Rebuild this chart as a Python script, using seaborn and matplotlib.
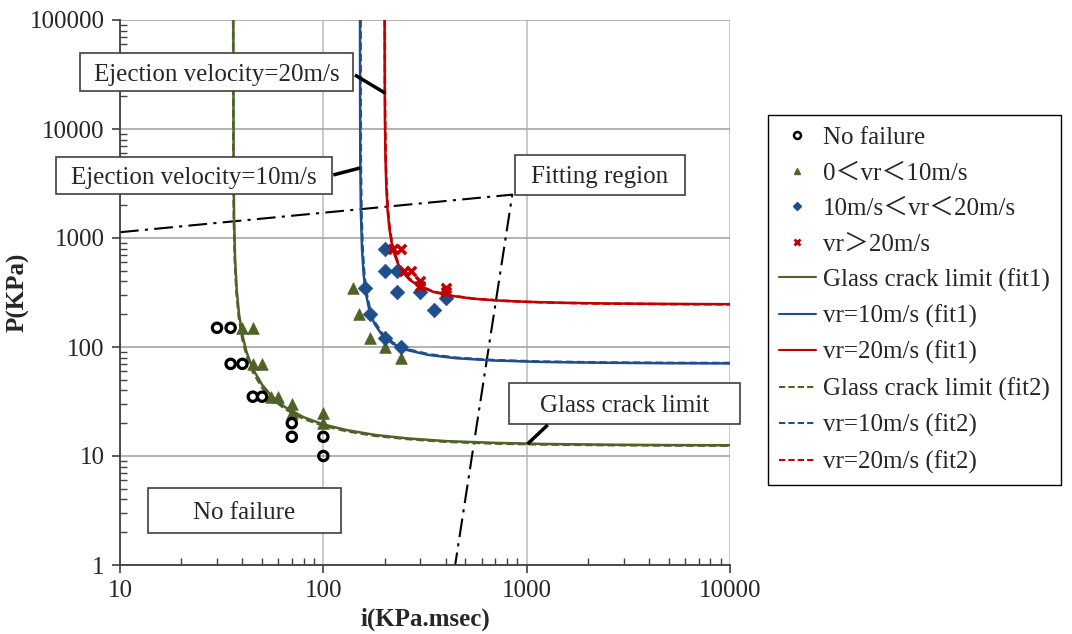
import numpy as np
import pandas as pd
import matplotlib
matplotlib.use("Agg")
import matplotlib.pyplot as plt
import seaborn as sns
from matplotlib.patches import Rectangle
from matplotlib.lines import Line2D

# ---------------- data ----------------
no_fail_i = [30, 35, 35, 40, 45, 50, 70, 70, 100, 100]
no_fail_p = [150, 150, 70, 70, 35, 35, 20, 15, 15, 10]

v0_10_i = [40, 45, 45, 50, 55, 60, 70, 70, 100, 100, 140, 150, 170, 200, 240]
v0_10_p = [150, 150, 70, 70, 35, 35, 30, 25, 25, 20, 350, 200, 120, 100, 80]

v10_20_i = [200, 200, 230, 230, 160, 170, 200, 240, 300, 350, 400]
v10_20_p = [800, 500, 500, 320, 350, 200, 120, 100, 320, 220, 280]

v20_i = [220, 240, 250, 270, 300, 300, 400, 400]
v20_p = [800, 800, 500, 500, 400, 360, 350, 320]

glass_fit1_i = [36.1, 36.2, 36.4, 36.8, 37.5, 38.5, 40, 42, 45, 50, 56, 65, 80, 100,
                130, 180, 260, 400, 700, 1200, 2500, 5000, 10000]
glass_fit1_p = [100000, 4512, 1512, 655, 334, 200, 128, 89, 63, 45, 35, 28, 22.7, 19.5,
                17.3, 15.6, 14.5, 13.7, 13.2, 12.9, 12.7, 12.6, 12.55]
glass_fit2_i = [36.0, 36.1, 36.3, 36.7, 37.4, 38.4, 40, 42, 45, 50, 56, 65, 80, 100,
                130, 180, 260, 400, 700, 1200, 2500, 5000, 10000]
glass_fit2_p = [100000, 4212, 1412, 612, 312, 187, 117.4, 82.4, 59, 42.4, 33.4, 26.9, 21.9, 19.0,
                16.9, 15.3, 14.3, 13.5, 13.0, 12.75, 12.57, 12.48, 12.44]

v10_fit1_i = [151.5, 151.6, 152, 153, 155, 158, 162, 168, 178, 195, 220, 260, 330, 450,
              700, 1200, 2500, 5000, 10000]
v10_fit1_p = [100000, 25070, 5070, 1737, 785, 455, 309, 222, 164.8, 128, 107, 93.5, 84.5, 78.9,
              75.1, 72.9, 71.6, 71.0, 70.75]
v10_fit2_i = [152.5, 152.6, 153, 154, 156, 159, 163, 169, 179, 196, 221, 261, 331, 451,
              700, 1200, 2500, 5000, 10000]
v10_fit2_p = [100000, 26071, 5271, 1804, 814, 471, 318.6, 228.6, 169.1, 130.8, 109, 95, 85.6, 79.7,
              75.7, 73.5, 72.1, 71.5, 71.3]

v20_fit1_i = [200.1, 200.5, 201, 202, 204, 207, 211, 216, 223, 232, 245, 265, 300, 350, 430,
              550, 750, 1000, 1500, 2500, 5000, 10000]
v20_fit1_p = [100000, 22246, 11246, 5746, 2996, 1817, 1246, 934, 724, 590, 490, 415, 356, 319, 294,
              277, 266, 259.8, 254.5, 250.8, 248.3, 247.1]
v20_fit2_i = [200.6, 201, 201.5, 202.5, 204.5, 207.5, 211.5, 216.5, 223.5, 232.5, 245.5, 265.5,
              300.5, 350.5, 430.5, 550.5, 750.5, 1000, 1500, 2500, 5000, 10000]
v20_fit2_p = [100000, 23245, 11745, 5995, 3120, 1888, 1290, 964, 745, 604, 500.6, 421.9,
              360.6, 321.7, 295, 277.9, 265.9, 259.4, 253.8, 249.8, 247.4, 246.2]

fit_region_i = [10, 850, 445]
fit_region_p = [1130, 2500, 1]

x_ticks = [10, 100, 1000, 10000]
x_tick_labels = ["10", "100", "1000", "10000"]
y_ticks = [1, 10, 100, 1000, 10000, 100000]
y_tick_labels = ["1", "10", "100", "1000", "10000", "100000"]

legend_labels = ["No failure", "0\uff1cvr\uff1c10m/s", "10m/s\uff1cvr\uff1c20m/s", "vr\uff1e20m/s",
                 "Glass crack limit (fit1)", "vr=10m/s (fit1)", "vr=20m/s (fit1)",
                 "Glass crack limit (fit2)", "vr=10m/s (fit2)", "vr=20m/s (fit2)"]

# annotation texts
ann_texts = ["Ejection velocity=20m/s", "Ejection velocity=10m/s", "Fitting region",
             "Glass crack limit", "No failure"]
# leader lines in data coords: (i_start, p_start, i_end, p_end)
leader_lines = [(143, 31300, 201, 21400), (112, 3790, 151.6, 4390), (1270, 19.3, 1010, 12.9)]

# ---------------- style ----------------
sns.set_style("ticks")
plt.rcParams["font.family"] = ["Liberation Serif", "Noto Sans CJK JP", "DejaVu Sans"]
FS = 18

GREEN = "#4F6228"
BLUE = "#1F4E8C"
RED = "#C00000"

W, H = 1072, 634
fig = plt.figure(figsize=(W / 100, H / 100), dpi=100)
L, R, T, B = 120, 730, 20, 565
ax = fig.add_axes([L / W, 1 - B / H, (R - L) / W, (B - T) / H])
ax.set_xscale("log")
ax.set_yscale("log")
ax.set_xlim(10, 10000)
ax.set_ylim(1, 100000)

def px_to_axes(x0, y0, x1, y1):
    return ((x0 - L) / (R - L), (B - y1) / (B - T), (x1 - x0) / (R - L), (y1 - y0) / (B - T))

# fitting region dash-dot
sns.lineplot(x=fit_region_i, y=fit_region_p, ax=ax, sort=False, estimator=None,
             color="black", lw=1.5, linestyle=(0, (9, 3, 1.5, 3)), zorder=2)

# fit curves
curves = [
    (glass_fit1_i, glass_fit1_p, GREEN, "-"),
    (v10_fit1_i, v10_fit1_p, BLUE, "-"),
    (v20_fit1_i, v20_fit1_p, RED, "-"),
    (glass_fit2_i, glass_fit2_p, GREEN, (0, (3, 1.5))),
    (v10_fit2_i, v10_fit2_p, BLUE, (0, (3, 1.5))),
    (v20_fit2_i, v20_fit2_p, RED, (0, (3, 1.5))),
]
for xi, yi, c, ls in curves:
    sns.lineplot(x=xi, y=yi, ax=ax, sort=False, estimator=None, color=c, lw=1.8,
                 linestyle=ls, zorder=3)

# scatter points
sns.scatterplot(x=v0_10_i, y=v0_10_p, ax=ax, marker="^", s=70, color=GREEN,
                edgecolor=GREEN, linewidth=0.5, zorder=4)
sns.scatterplot(x=v10_20_i, y=v10_20_p, ax=ax, marker="D", s=55, color=BLUE,
                edgecolor=BLUE, linewidth=0.5, zorder=4)
sns.scatterplot(x=v20_i, y=v20_p, ax=ax, marker="x", s=45, color=RED,
                linewidth=2.5, zorder=5)
sns.scatterplot(x=no_fail_i, y=no_fail_p, ax=ax, marker="o", s=45, facecolors="none",
                edgecolor="black", linewidth=2.3, zorder=5)

# axes formatting
ax.set_xticks(x_ticks)
ax.set_xticklabels(x_tick_labels)
ax.set_yticks(y_ticks)
ax.set_yticklabels(y_tick_labels)
ax.xaxis.set_minor_locator(matplotlib.ticker.LogLocator(base=10, subs=np.arange(2, 10), numticks=20))
ax.yaxis.set_minor_locator(matplotlib.ticker.LogLocator(base=10, subs=np.arange(2, 10), numticks=20))
ax.xaxis.set_minor_formatter(matplotlib.ticker.NullFormatter())
ax.yaxis.set_minor_formatter(matplotlib.ticker.NullFormatter())
ax.tick_params(which="major", direction="out", length=6, width=1.2, color="#404040",
               labelsize=FS, pad=5)
ax.tick_params(which="minor", direction="in", length=5, width=1.0, color="#404040")
ax.yaxis.grid(True, which="major", color="#A6A6A6", lw=1.2, zorder=0)
ax.xaxis.grid(True, which="major", color="#C0C0C0", lw=1.2, zorder=0)
ax.set_axisbelow(True)
for s in ["top", "right"]:
    ax.spines[s].set_visible(False)
for s in ["left", "bottom"]:
    ax.spines[s].set_color("#404040")
    ax.spines[s].set_linewidth(1.3)
ax.set_xlabel("i(KPa.msec)", fontsize=FS, fontweight="bold", labelpad=4)
ax.set_ylabel("P(KPa)", fontsize=FS, fontweight="bold", labelpad=0)

# annotation boxes (pixel boxes of the reference)
boxes_px = [(80, 53, 353, 91), (56, 157, 332, 194), (515, 155, 685, 195),
            (509, 383, 740, 424), (148, 488, 341, 533)]
for txt, (x0, y0, x1, y1) in zip(ann_texts, boxes_px):
    ax0, ay0, aw, ah = px_to_axes(x0, y0, x1, y1)
    ax.add_patch(Rectangle((ax0, ay0), aw, ah, transform=ax.transAxes, facecolor="white",
                           edgecolor="#404040", lw=1.2, zorder=6, clip_on=False))
    ax.text(ax0 + aw / 2, ay0 + ah / 2, txt, transform=ax.transAxes, ha="center",
            va="center_baseline", fontsize=FS, zorder=7)

for (xs, ys, xe, ye) in leader_lines:
    ax.plot([xs, xe], [ys, ye], color="black", lw=2.5, zorder=6, solid_capstyle="butt")

# legend
handles = [
    Line2D([], [], ls="none", marker="o", ms=5, mfc="none", mec="black", mew=1.8),
    Line2D([], [], ls="none", marker="^", ms=5, color=GREEN),
    Line2D([], [], ls="none", marker="D", ms=4.5, color=BLUE),
    Line2D([], [], ls="none", marker="x", ms=5, mew=2, color=RED),
    Line2D([], [], color=GREEN, lw=1.5),
    Line2D([], [], color=BLUE, lw=1.5),
    Line2D([], [], color=RED, lw=1.5),
    Line2D([], [], color=GREEN, lw=1.5, ls=(0, (3, 1.5))),
    Line2D([], [], color=BLUE, lw=1.5, ls=(0, (3, 1.5))),
    Line2D([], [], color=RED, lw=1.5, ls=(0, (3, 1.5))),
]
leg = fig.legend(handles, legend_labels, loc="upper left", bbox_to_anchor=(768 / W, 1 - 115 / H),
                 bbox_transform=fig.transFigure, fontsize=FS, frameon=True, fancybox=False,
                 edgecolor="black", framealpha=1, handlelength=1.45, handletextpad=0.3,
                 labelspacing=0.52, borderpad=0.45, borderaxespad=0)
leg.get_frame().set_linewidth(1.0)

fig.savefig("out.png", dpi=100)
